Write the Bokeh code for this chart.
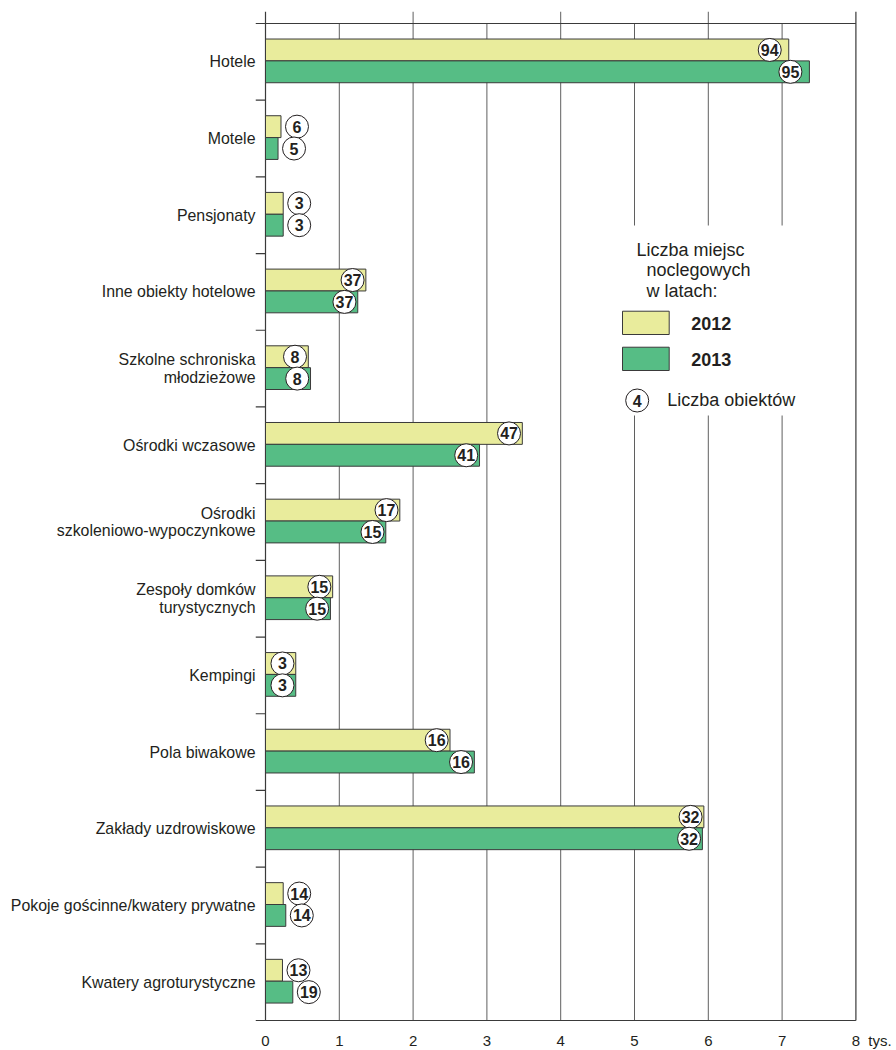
from bokeh.plotting import figure
from bokeh.models import Range1d, FixedTicker
from bokeh.embed import file_html
from bokeh.resources import INLINE
from bokeh.core.properties import value

categories = [
    "Hotele",
    "Motele",
    "Pensjonaty",
    "Inne obiekty hotelowe",
    "Szkolne schroniska\nmłodzieżowe",
    "Ośrodki wczasowe",
    "Ośrodki\nszkoleniowo-wypoczynkowe",
    "Zespoły domków\nturystycznych",
    "Kempingi",
    "Pola biwakowe",
    "Zakłady uzdrowiskowe",
    "Pokoje gościnne/kwatery prywatne",
    "Kwatery agroturystyczne",
]
places_2012 = [7.09, 0.21, 0.24, 1.36, 0.58, 3.48, 1.82, 0.91, 0.41, 2.50, 5.94, 0.24, 0.23]
places_2013 = [7.37, 0.17, 0.24, 1.25, 0.61, 2.90, 1.63, 0.88, 0.41, 2.83, 5.92, 0.275, 0.37]
objects_2012 = [94, 6, 3, 37, 8, 47, 17, 15, 3, 16, 32, 14, 13]
objects_2013 = [95, 5, 3, 37, 8, 41, 15, 15, 3, 16, 32, 14, 19]
x_ticks = [0, 1, 2, 3, 4, 5, 6, 7, 8]
series_years = ["2012", "2013"]
legend_title = ["Liczba miejsc", "noclegowych", "w latach:"]
legend_objects = "Liczba obiektów"
unit_label = "tys."

YELLOW = "#E9EC9C"
GREEN = "#56BD85"
INK = "#231F20"
EDGE = "#3A3A3A"
GRID = "#5F5F5F"
FONT = "Liberation Sans"

PX_X = 73.8   # pixels per unit on x
PX_Y = 76.69  # pixels per category
n = len(categories)
TOP_EXT = 12 / PX_Y        # gridline stubs above the top line
LEFT_EXT = 10 / PX_X       # category ticks left of the zero line

p = figure(
    frame_width=630, frame_height=1010,
    x_range=Range1d(-LEFT_EXT, 8 + 29.6 / PX_X),
    y_range=Range1d(n + 1 / PX_Y, -TOP_EXT),
    output_backend="svg", toolbar_location=None,
    min_border_left=255, min_border_right=7,
    min_border_top=11, min_border_bottom=29,
)
p.outline_line_color = None
p.background_fill_color = "white"
p.border_fill_color = "white"
p.xgrid.visible = False
p.ygrid.visible = False

# bottom axis: tick labels only (lines are drawn below)
unit_pos = 8 + 24 / PX_X
xa = p.xaxis[0]
xa.ticker = FixedTicker(ticks=x_ticks + [unit_pos])
xa.major_label_overrides = {unit_pos: unit_label}
xa.axis_line_color = None
xa.major_tick_line_color = None
xa.major_tick_in = 0
xa.major_tick_out = 0
xa.minor_tick_line_color = None
xa.major_label_standoff = 10
xa.major_label_text_font = FONT
xa.major_label_text_font_size = "15px"
xa.major_label_text_color = INK

# left axis: category labels only
ya = p.yaxis[0]
centers = [i + 0.5 for i in range(n)]
ya.ticker = FixedTicker(ticks=centers)
ya.major_label_overrides = {c: lab for c, lab in zip(centers, categories)}
ya.axis_line_color = None
ya.major_tick_line_color = None
ya.major_tick_in = 0
ya.major_tick_out = 0
ya.minor_tick_line_color = None
ya.major_label_standoff = 0
ya.major_label_text_font = FONT
ya.major_label_text_font_size = "15.9px"
ya.major_label_text_color = INK
ya.major_label_text_line_height = 1.05

# vertical lines (zero line, grid, right edge) with stubs above at even values
vx = x_ticks
vy0 = [-TOP_EXT if t % 2 == 0 else 0 for t in vx]
vcol = [EDGE if t in (0, 8) else GRID for t in vx]
vw = [1.2 if t in (0, 8) else 1.0 for t in vx]
p.segment(x0=vx, x1=vx, y0=vy0, y1=[n] * len(vx), line_color=vcol, line_width=vw)

# top and bottom lines
p.segment(x0=[-LEFT_EXT, -LEFT_EXT], x1=[8, 8], y0=[0, n], y1=[0, n],
          line_color=EDGE, line_width=1.2)

# category boundary ticks on the left
bounds = list(range(1, n))
p.segment(x0=[-LEFT_EXT] * len(bounds), x1=[0] * len(bounds), y0=bounds, y1=bounds,
          line_color=EDGE, line_width=1.2)

# bars
BAR_H = 0.285
y12 = [i + 0.345 for i in range(n)]
y13 = [i + 0.63 for i in range(n)]
p.hbar(y=y12, height=BAR_H, left=0, right=places_2012, fill_color=YELLOW,
       line_color=EDGE, line_width=1)
p.hbar(y=y13, height=BAR_H, left=0, right=places_2013, fill_color=GREEN,
       line_color=EDGE, line_width=1)


def badge_x(v):
    if v < 0.4:
        return v + 16 / PX_X
    if v > 7:
        return v - 19 / PX_X
    return v - 13.3 / PX_X


bx = [badge_x(v) for v in places_2012] + [badge_x(v) for v in places_2013]
by = y12 + y13
bt = [str(o) for o in objects_2012] + [str(o) for o in objects_2013]
p.scatter(x=bx, y=by, marker="circle", size=23, fill_color="white",
          line_color=INK, line_width=1)
p.text(x=bx, y=by, text=bt, text_font=value(FONT), text_font_style="bold",
       text_font_size="16px", text_align="center", text_baseline="middle",
       text_color=INK)


# legend (white panel breaks the grid lines)
def dx(px):
    return (px - 265) / PX_X


def dy(py):
    return (py - 23) / PX_Y


p.quad(left=[dx(612)], right=[dx(850)], top=[dy(225)], bottom=[dy(415)],
       fill_color="white", line_color=None)
p.text(x=[dx(636), dx(646), dx(646)], y=[dy(249), dy(269.5), dy(290)], text=legend_title,
       text_font=value(FONT), text_font_size="18px", text_align="left",
       text_baseline="middle", text_color=INK)
p.quad(left=[dx(622), dx(622)], right=[dx(668.7), dx(668.7)],
       top=[dy(310.7), dy(346.7)], bottom=[dy(334), dy(370)],
       fill_color=[YELLOW, GREEN], line_color=EDGE, line_width=1)
p.text(x=[dx(690.7), dx(690.7)], y=[dy(322.7), dy(358.7)], text=series_years,
       text_font=value(FONT), text_font_style="bold", text_font_size="18px",
       text_align="left", text_baseline="middle", text_color=INK)
p.scatter(x=[dx(636.7)], y=[dy(400)], marker="circle", size=23, fill_color="white",
          line_color=INK, line_width=1)
p.text(x=[dx(636.7)], y=[dy(400)], text=["4"], text_font=value(FONT),
       text_font_style="bold", text_font_size="16px", text_align="center",
       text_baseline="middle", text_color=INK)
p.text(x=[dx(666.7)], y=[dy(399)], text=[legend_objects], text_font=value(FONT),
       text_font_size="18px", text_align="left", text_baseline="middle",
       text_color=INK)

open("out.html", "w").write(file_html(p, INLINE))
